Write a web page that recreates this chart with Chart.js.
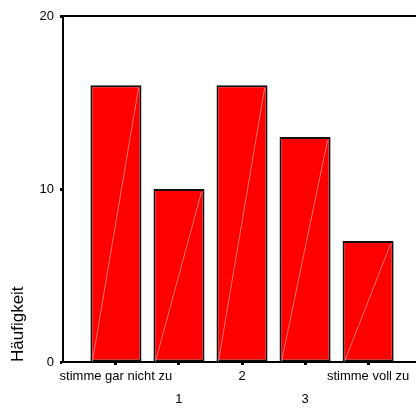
<!DOCTYPE html>
<html>
<head>
<meta charset="utf-8">
<script src="https://cdn.jsdelivr.net/npm/chart.js@4/dist/chart.umd.min.js"></script>
<style>
  html, body { margin: 0; padding: 0; background: #fff; }
  #wrap { width: 416px; height: 408px; position: relative; }
</style>
</head>
<body>
<div id="wrap"><canvas id="chart"></canvas></div>
<script>
// categories (two label rows, staggered like the original)
const categories = ['stimme gar nicht zu', '1', '2', '3', 'stimme voll zu'];
const counts = [16, 10, 16, 13, 7];
const yTicks = [0, 10, 20];
const yTitle = 'Häufigkeit';

const FONT = '"Liberation Sans", Arial, sans-serif';

// faint diagonal stroke inside every bar + top frame line
const barDecor = {
  id: 'barDecor',
  afterDatasetsDraw(chart) {
    const ctx = chart.ctx;
    const meta = chart.getDatasetMeta(0);
    ctx.save();
    ctx.strokeStyle = 'rgba(255,160,160,0.9)';
    ctx.lineWidth = 0.8;
    meta.data.forEach(bar => {
      const p = bar.getProps(['x', 'y', 'base', 'width'], true);
      const l = p.x - p.width / 2 + 2;
      const r = p.x + p.width / 2 - 3;
      ctx.beginPath();
      ctx.moveTo(l, p.base);
      ctx.lineTo(r, p.y + 3);
      ctx.stroke();
    });
    const a = chart.chartArea;
    ctx.strokeStyle = '#000';
    ctx.lineWidth = 2;
    ctx.beginPath();
    ctx.moveTo(a.left, a.top);
    ctx.lineTo(chart.width, a.top);
    ctx.stroke();
    ctx.restore();
  }
};

new Chart(document.getElementById('chart'), {
  type: 'bar',
  data: {
    datasets: [{
      data: counts.map((v, i) => ({ x: i, y: v })),
      backgroundColor: '#ff0000',
      borderColor: '#111',
      borderWidth: 2,
      borderSkipped: false,
      barPercentage: 0.81,
      categoryPercentage: 1
    }]
  },
  plugins: [barDecor],
  options: {
    responsive: true,
    maintainAspectRatio: false,
    animation: false,
    layout: { padding: { top: 16, right: 0, left: 0, bottom: 0 } },
    plugins: { legend: { display: false }, tooltip: { enabled: false } },
    scales: {
      x: {
        type: 'linear',
        offset: false,
        min: -0.84,
        max: 4.76,
        afterBuildTicks: s => { s.ticks = categories.map((_, i) => ({ value: i })); },
        afterFit: s => { s.height = 46; },
        grid: { offset: false, drawOnChartArea: false, drawTicks: true, tickLength: 3, tickWidth: 3, color: '#000' },
        border: { display: true, color: '#000', width: 2 },
        ticks: {
          autoSkip: false,
          maxRotation: 0,
          padding: 0,
          color: '#000',
          font: { family: FONT, size: 13, lineHeight: 1.77 },
          callback: v => (v % 2 === 0 ? [categories[v], ''] : ['', categories[v]])
        }
      },
      y: {
        min: 0,
        max: 20,
        afterBuildTicks: s => { s.ticks = yTicks.map(v => ({ value: v })); },
        afterFit: s => { s.width = 63; },
        grid: { drawOnChartArea: false, drawTicks: true, tickLength: 3, tickWidth: 3, color: '#000' },
        border: { display: true, color: '#000', width: 2 },
        ticks: { color: '#000', padding: 6, font: { family: FONT, size: 13 } },
        title: {
          display: true,
          text: yTitle,
          align: 'start',
          color: '#000',
          padding: { top: 8, bottom: 0 },
          font: { family: FONT, size: 17 }
        }
      }
    }
  }
});
</script>
</body>
</html>
